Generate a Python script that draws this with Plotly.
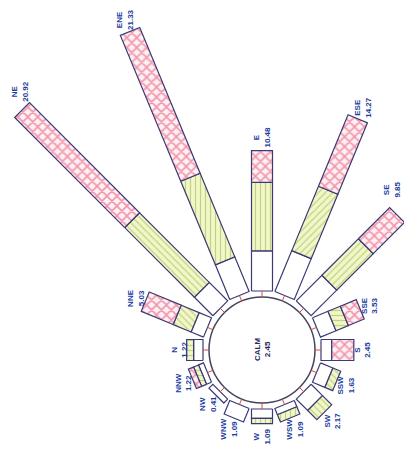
import numpy as np
import plotly.graph_objects as go

# --- data (percent of time) ---
directions = ['N', 'NNE', 'NE', 'ENE', 'E', 'ESE', 'SE', 'SSE',
              'S', 'SSW', 'SW', 'WSW', 'W', 'WNW', 'NW', 'NNW']
totals = [1.22, 5.03, 20.92, 21.33, 10.48, 14.27, 9.85, 3.53,
          2.45, 1.63, 2.17, 1.09, 1.09, 1.09, 0.41, 1.22]
# speed classes, inner -> outer
low = [0.70, 1.00, 1.95, 2.80, 3.00, 3.30, 2.70, 1.25,
       0.80, 1.00, 1.20, 0.50, 0.70, 1.09, 0.41, 0.40]
mid = [0.52, 1.45, 7.35, 6.75, 5.10, 5.20, 3.85, 1.00,
       0.00, 0.63, 0.97, 0.59, 0.39, 0.00, 0.00, 0.40]
high = [0.00, 2.58, 11.62, 11.78, 2.38, 5.77, 3.30, 1.28,
        1.65, 0.00, 0.00, 0.00, 0.00, 0.00, 0.00, 0.42]
calm = 2.45

# --- geometry (units = percent) ---
PX = 13.4            # pixels per percent
R_CIRCLE = 53 / PX   # calm circle
R_BASE = 59 / PX     # where the bars start
HALF_W = 10.5 / PX   # half bar width
W, H = 404, 451      # page body has an 8px margin
CX, CY = 254, 342    # centre in plot pixels

EDGE = '#3a3a74'
TXT = '#1c3c9c'
FONT = 'Liberation Sans Narrow, Arial Narrow, Liberation Sans, sans-serif'


def rect(theta, r_a, r_b):
    u = np.array([np.cos(theta), np.sin(theta)])
    v = np.array([-np.sin(theta), np.cos(theta)])
    pts = [r_a * u + HALF_W * v, r_b * u + HALF_W * v,
           r_b * u - HALF_W * v, r_a * u - HALF_W * v, r_a * u + HALF_W * v]
    return [p[0] for p in pts], [p[1] for p in pts]


def stripe_shape(deg):
    d = deg % 180
    opts = {0: '-', 45: '/', 90: '|', 135: '\\', 180: '-'}
    return opts[min(opts, key=lambda k: abs(k - d))]


x_lo, x_hi = -CX / PX, (W - CX) / PX
y_lo, y_hi = -(H - CY) / PX, CY / PX

fig = go.Figure()

tick_x, tick_y = [], []
annotations = []
for i, name in enumerate(directions):
    deg = 180 - 22.5 * i          # picture is turned: N left, E up
    th = np.radians(deg)
    r1 = R_BASE + low[i]
    r2 = r1 + mid[i]
    r3 = r2 + high[i]

    # small red link between circle and bar
    tick_x += [R_CIRCLE * np.cos(th), R_BASE * np.cos(th), None]
    tick_y += [R_CIRCLE * np.sin(th), R_BASE * np.sin(th), None]

    if low[i] > 0:
        x, y = rect(th, R_BASE, r1)
        fig.add_trace(go.Scatter(x=x, y=y, mode='lines', fill='toself',
                                 fillcolor='white', line=dict(color=EDGE, width=1.2),
                                 hoverinfo='skip', showlegend=False))
    if mid[i] > 0:
        x, y = rect(th, r1, r2)
        fig.add_trace(go.Scatter(
            x=x, y=y, mode='lines', fill='toself',
            fillpattern=dict(shape=stripe_shape(deg), fgcolor='#86b24e',
                             bgcolor='#f3f6c6', size=5, solidity=0.25),
            line=dict(color=EDGE, width=1.2), hoverinfo='skip', showlegend=False))
    if high[i] > 0:
        x, y = rect(th, r2, r3)
        fig.add_trace(go.Scatter(
            x=x, y=y, mode='lines', fill='toself',
            fillpattern=dict(shape='x', fgcolor='#e8365f',
                             bgcolor='#fdf1f4', size=7, solidity=0.4),
            line=dict(color=EDGE, width=1.2), hoverinfo='skip', showlegend=False))

    off = (8 + 5 * abs(np.sin(th))) / PX
    lx0 = (r3 + off) * np.cos(th)
    ly = (r3 + off) * np.sin(th)
    lx = min(max(lx0, x_lo + 12 / PX), x_hi - 20 / PX)
    if lx != lx0:
        # pushed in from the edge: lift it clear of the bar end
        ly += np.sign(np.sin(th)) * (abs(lx0 - lx) + 4 / PX)
    annotations.append(dict(
        x=lx, y=ly,
        text=f'<b>{name}<br>{totals[i]:.2f}</b>', showarrow=False,
        textangle=-90, font=dict(family=FONT, size=8, color=TXT),
        xanchor='center', yanchor='middle'))

fig.add_trace(go.Scatter(x=tick_x, y=tick_y, mode='lines',
                         line=dict(color='#e0483c', width=1),
                         hoverinfo='skip', showlegend=False))

annotations.append(dict(x=0, y=0, text=f'<b>CALM<br>{calm:.2f}</b>',
                        showarrow=False, textangle=-90,
                        font=dict(family=FONT, size=8, color='#2a2a5a')))

fig.update_layout(
    width=W, height=H,
    margin=dict(l=0, r=0, t=0, b=0),
    paper_bgcolor='white', plot_bgcolor='white',
    xaxis=dict(range=[x_lo, x_hi], visible=False, fixedrange=True),
    yaxis=dict(range=[y_lo, y_hi], visible=False, fixedrange=True),
    shapes=[dict(type='circle', xref='x', yref='y',
                 x0=-R_CIRCLE, y0=-R_CIRCLE, x1=R_CIRCLE, y1=R_CIRCLE,
                 line=dict(color='#44445e', width=1.5), layer='below')],
    annotations=annotations,
)

fig.write_html("out.html")
